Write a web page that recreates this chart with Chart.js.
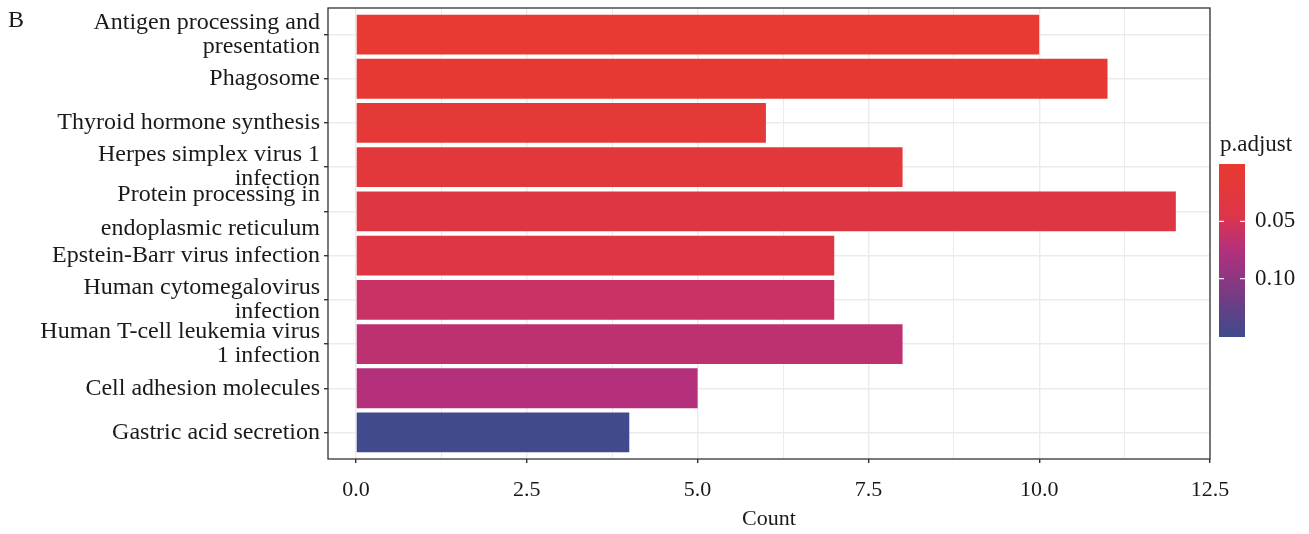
<!DOCTYPE html>
<html>
<head>
<meta charset="utf-8">
<script src="https://cdn.jsdelivr.net/npm/chart.js@4"></script>
<style>
    body { margin: 0; background: #fff; }
    #wrap { position: relative; width: 1309px; height: 534px; }
    #panel-label { position: absolute; left: 8px; top: 6px; font: 24px 'Liberation Serif', serif; color: #1a1a1a; }
</style>
</head>
<body>
<div id="wrap">
    <canvas id="enrichBar" width="1309" height="534"></canvas>
    <div id="panel-label">B</div>
</div>
<script>
// KEGG pathways, top to bottom
const pathways = [
    ['Antigen processing and', 'presentation'],
    ['Phagosome'],
    ['Thyroid hormone synthesis'],
    ['Herpes simplex virus 1', 'infection'],
    ['Protein processing in', 'endoplasmic reticulum'],
    ['Epstein-Barr virus infection'],
    ['Human cytomegalovirus', 'infection'],
    ['Human T-cell leukemia virus', '1 infection'],
    ['Cell adhesion molecules'],
    ['Gastric acid secretion']
];
const counts = [10, 11, 6, 8, 12, 7, 7, 8, 5, 4];
const pAdjust = [0.003, 0.006, 0.014, 0.02, 0.038, 0.04, 0.06, 0.068, 0.074, 0.15];
const countTicks = [0, 2.5, 5, 7.5, 10, 12.5];
const pTicks = [0.05, 0.10];

const pMin = 0, pMax = 0.151;
// colour ramp red -> blue, position 0..1
const ramp = [
    [0.00, [233, 58, 48]],
    [0.30, [220, 54, 72]],
    [0.33, [214, 52, 84]],
    [0.50, [178, 48, 125]],
    [0.67, [140, 55, 130]],
    [0.85, [95, 65, 135]],
    [1.00, [64, 74, 140]]
];

function colorFor(p) {
    let f = Math.min(1, Math.max(0, (p - pMin) / (pMax - pMin)));
    for (let i = 1; i < ramp.length; i++) {
        if (f <= ramp[i][0]) {
            let a = ramp[i - 1], b = ramp[i];
            let t = (f - a[0]) / (b[0] - a[0]);
            let c = a[1].map((v, k) => Math.round(v + (b[1][k] - v) * t));
            return `rgb(${c[0]},${c[1]},${c[2]})`;
        }
    }
    return 'rgb(64,74,140)';
}

const serif = "'Liberation Serif', 'Times New Roman', serif";
const textColor = '#1a1a1a';
const lineColor = '#333333';
const gridColor = '#ebebeb';

const extras = {
    id: 'extras',
    afterDraw(chart) {
        const ctx = chart.ctx;
        const area = chart.chartArea;
        ctx.save();
        // panel border
        ctx.strokeStyle = lineColor;
        ctx.lineWidth = 1.3;
        ctx.strokeRect(area.left, area.top, area.right - area.left, area.bottom - area.top);

        // colourbar
        const bx = 1219, bw = 26, top = 164, bottom = 337;
        const grad = ctx.createLinearGradient(0, top, 0, bottom);
        ramp.forEach(s => grad.addColorStop(s[0], `rgb(${s[1].join(',')})`));
        ctx.fillStyle = grad;
        ctx.fillRect(bx, top, bw, bottom - top);

        ctx.fillStyle = textColor;
        ctx.font = '23px ' + serif;
        ctx.textBaseline = 'middle';
        ctx.textAlign = 'left';
        ctx.fillText('p.adjust', 1220, 145);

        ctx.strokeStyle = 'rgba(255,255,255,0.9)';
        ctx.lineWidth = 1.2;
        pTicks.forEach(p => {
            let y = top + (p - pMin) / (pMax - pMin) * (bottom - top);
            ctx.beginPath();
            ctx.moveTo(bx, y); ctx.lineTo(bx + 5, y);
            ctx.moveTo(bx + bw - 5, y); ctx.lineTo(bx + bw, y);
            ctx.stroke();
            ctx.fillText(p.toFixed(2), 1255, y);
        });
        ctx.restore();
    }
};

const ctx = document.getElementById('enrichBar');

new Chart(ctx, {
    type: 'bar',
    data: {
        datasets: [{
            data: counts.map((v, i) => ({ x: v, y: i })),
            backgroundColor: pAdjust.map(colorFor),
            borderWidth: 0,
            barPercentage: 0.9,
            categoryPercentage: 1
        }]
    },
    options: {
        indexAxis: 'y',
        responsive: false,
        animation: false,
        devicePixelRatio: 1,
        layout: { padding: { top: 8, right: 99, left: 0, bottom: 0 } },
        plugins: {
            legend: { display: false },
            tooltip: { enabled: false }
        },
        scales: {
            x: {
                type: 'linear',
                min: -0.41,
                max: 12.5,
                afterBuildTicks: axis => {
                    let t = [];
                    for (let v = 0; v <= 12.5; v += 1.25) t.push({ value: v });
                    axis.ticks = t;
                },
                afterFit: axis => {
                    axis.height = 75;
                    axis.paddingLeft = 0;
                    axis.paddingRight = 0;
                },
                ticks: {
                    autoSkip: false,
                    maxRotation: 0,
                    padding: 14,
                    color: textColor,
                    font: { family: serif, size: 22 },
                    callback: v => countTicks.includes(v) ? v.toFixed(1) : ''
                },
                grid: {
                    color: gridColor,
                    lineWidth: c => countTicks.includes(c.tick.value) ? 1.4 : 1,
                    tickLength: 4,
                    tickColor: c => countTicks.includes(c.tick.value) ? lineColor : 'rgba(0,0,0,0)'
                },
                border: { display: false },
                title: {
                    display: true,
                    text: 'Count',
                    color: textColor,
                    font: { family: serif, size: 22 },
                    padding: { top: 0, bottom: 2 }
                }
            },
            y: {
                type: 'linear',
                reverse: true,
                offset: false,
                min: -0.6,
                max: 9.6,
                afterBuildTicks: axis => {
                    axis.ticks = pathways.map((p, i) => ({ value: i }));
                },
                afterFit: axis => {
                    axis.width = 328;
                    axis.paddingTop = 0;
                    axis.paddingBottom = 0;
                },
                ticks: {
                    autoSkip: false,
                    padding: 4,
                    color: textColor,
                    font: c => ({
                        family: serif,
                        size: 24,
                        lineHeight: c.index === 4 ? 1.42 : 1.0
                    }),
                    callback: v => pathways[v]
                },
                grid: {
                    offset: false,
                    color: gridColor,
                    lineWidth: 1.4,
                    tickLength: 4,
                    tickColor: lineColor
                },
                border: { display: false }
            }
        }
    },
    plugins: [extras]
});
</script>
</body>
</html>
